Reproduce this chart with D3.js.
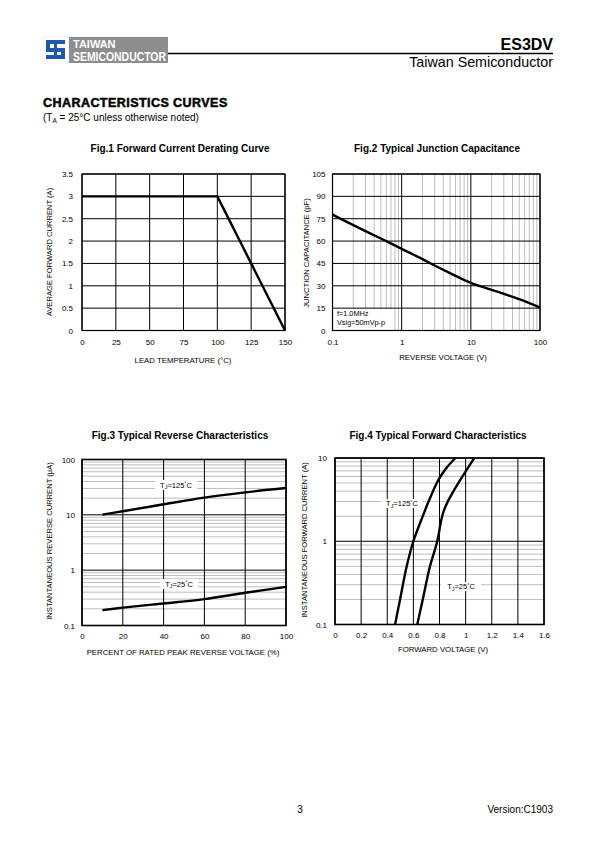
<!DOCTYPE html>
<html><head><meta charset="utf-8">
<script src="https://cdn.jsdelivr.net/npm/d3@7/dist/d3.min.js"></script>
<style>
html,body{margin:0;padding:0;background:#fff;}
svg{display:block;font-family:"Liberation Sans",Arial,sans-serif;}
</style></head>
<body>
<svg id="page" width="595" height="842"></svg>
<script>
// ---------- DATA ----------
// Fig.1 Forward Current Derating Curve
const fig1Temp = [0, 100, 150];
const fig1Current = [3, 3, 0];
const fig1XTicks = [0, 25, 50, 75, 100, 125, 150];
const fig1YTicks = [0, 0.5, 1, 1.5, 2, 2.5, 3, 3.5];

// Fig.2 Typical Junction Capacitance
const fig2Voltage = [0.1, 0.2, 0.5, 1, 2, 3, 5, 10, 20, 50, 100];
const fig2Cap = [77.7, 70.7, 61.7, 54.8, 47.9, 43.6, 38.5, 32, 27.3, 21, 15.4];
const fig2XTicks = [0.1, 1, 10, 100];
const fig2YTicks = [0, 15, 30, 45, 60, 75, 90, 105];

// Fig.3 Typical Reverse Characteristics
const fig3Pct = [10, 20, 40, 60, 80, 100];
const fig3Ir125 = [10.1, 11.6, 15.5, 20.5, 25.5, 30.5];
const fig3Ir25 = [0.19, 0.21, 0.25, 0.3, 0.39, 0.5];
const fig3XTicks = [0, 20, 40, 60, 80, 100];
const fig3YTicks = [0.1, 1, 10, 100];

// Fig.4 Typical Forward Characteristics
const fig4Vf125 = [0.46, 0.498, 0.549, 0.6, 0.672, 0.72, 0.79, 0.85, 0.922];
const fig4If125 = [0.1, 0.2, 0.5, 1, 2, 3.1, 5.4, 7.5, 10];
const fig4Vf25 = [0.63, 0.672, 0.727, 0.783, 0.813, 0.834, 0.868, 0.911, 0.957, 1.003, 1.066];
const fig4If25 = [0.1, 0.2, 0.5, 1, 1.79, 2.35, 3.1, 4.1, 5.4, 7, 10];
const fig4XTicks = [0, 0.2, 0.4, 0.6, 0.8, 1, 1.2, 1.4, 1.6];
const fig4YTicks = [0.1, 1, 10];

// ---------- PAGE ----------
const svg = d3.select("#page");
svg.append("rect").attr("width",595).attr("height",842).attr("fill","#fff");

// Header logo
const logo = svg.append("g");
logo.append("rect").attr("x",43).attr("y",37).attr("width",26).attr("height",26).attr("fill","#fff").attr("stroke","#ddd").attr("stroke-width",0.5);
const blue = "#1d5aa6";
[[46,40,19,4],[46,40,4,11],[46,48,19,4],[61,48,4,11],[46,55,19,4]].forEach(r=>{
  logo.append("rect").attr("x",r[0]).attr("y",r[1]).attr("width",r[2]).attr("height",r[3]).attr("fill",blue);
});
logo.append("rect").attr("x",54).attr("y",43).attr("width",3).attr("height",15).attr("fill",blue);
logo.append("rect").attr("x",69).attr("y",37).attr("width",99).attr("height",26).attr("fill","#8e8e8e");
logo.append("text").attr("x",73).attr("y",48).attr("fill","#fff").attr("font-weight","bold").attr("font-size",11).text("TAIWAN");
logo.append("text").attr("x",73).attr("y",60.5).attr("fill","#fff").attr("font-weight","bold").attr("font-size",12)
  .attr("textLength",93).attr("lengthAdjust","spacingAndGlyphs").text("SEMICONDUCTOR");
svg.append("line").attr("x1",168).attr("x2",553).attr("y1",53.5).attr("y2",53.5).attr("stroke","#000").attr("stroke-width",1.3);
svg.append("text").attr("x",553).attr("y",50).attr("text-anchor","end").attr("font-weight","bold").attr("font-size",16).text("ES3DV");
svg.append("text").attr("x",553).attr("y",66.5).attr("text-anchor","end").attr("font-size",14.3).text("Taiwan Semiconductor");

svg.append("text").attr("x",43).attr("y",107).attr("font-weight","bold").attr("font-size",12.5)
  .attr("stroke","#000").attr("stroke-width",0.5).attr("letter-spacing",0.45).text("CHARACTERISTICS CURVES");
const sub = svg.append("text").attr("x",43).attr("y",121).attr("font-size",10);
sub.append("tspan").text("(T");
sub.append("tspan").attr("font-size",6.5).attr("dy",2).text("A");
sub.append("tspan").attr("dy",-2).text(" = 25°C unless otherwise noted)");

// Footer
svg.append("text").attr("x",300).attr("y",813).attr("text-anchor","middle").attr("font-size",10).text("3");
svg.append("text").attr("x",553).attr("y",813).attr("text-anchor","end").attr("font-size",10).text("Version:C1903");

let clipId = 0;
function panel(opt){
  const g = svg.append("g");
  const {x0,x1,y0,y1} = opt;
  const xs = opt.xLog ? d3.scaleLog().domain(opt.xDomain).range([x0,x1]) : d3.scaleLinear().domain(opt.xDomain).range([x0,x1]);
  const ys = opt.yLog ? d3.scaleLog().domain(opt.yDomain).range([y1,y0]) : d3.scaleLinear().domain(opt.yDomain).range([y1,y0]);
  // minor grid
  const minorX = [], minorY = [];
  if (opt.xLog){ const d=opt.xDomain; for(let p=d[0]; p<d[1]-1e-9; p*=10){ for(let k=2;k<=9;k++) minorX.push(p*k);} }
  if (opt.yLog){ const d=opt.yDomain; for(let p=d[0]; p<d[1]-1e-9; p*=10){ for(let k=2;k<=9;k++) minorY.push(p*k);} }
  g.selectAll(".mx").data(minorX).enter().append("line")
    .attr("x1",d=>xs(d)).attr("x2",d=>xs(d)).attr("y1",y0).attr("y2",y1).attr("stroke","#a0a0a0").attr("stroke-width",0.7);
  g.selectAll(".my").data(minorY).enter().append("line")
    .attr("y1",d=>ys(d)).attr("y2",d=>ys(d)).attr("x1",x0).attr("x2",x1).attr("stroke","#a0a0a0").attr("stroke-width",0.7);
  // major grid
  g.selectAll(".gx").data(opt.xTicks).enter().append("line")
    .attr("x1",d=>xs(d)).attr("x2",d=>xs(d)).attr("y1",y0).attr("y2",y1).attr("stroke","#000").attr("stroke-width",1);
  g.selectAll(".gy").data(opt.yTicks).enter().append("line")
    .attr("y1",d=>ys(d)).attr("y2",d=>ys(d)).attr("x1",x0).attr("x2",x1).attr("stroke","#000").attr("stroke-width",1);
  // label boxes (white behind text, over grid)
  (opt.boxes||[]).forEach(b=>{
    g.append("rect").attr("x",b[0]).attr("y",b[1]).attr("width",b[2]).attr("height",b[3]).attr("fill","#fff");
  });
  // frame
  g.append("rect").attr("x",x0).attr("y",y0).attr("width",x1-x0).attr("height",y1-y0)
    .attr("fill","none").attr("stroke","#000").attr("stroke-width",opt.frameW||1.2);
  // axes tick labels via d3 axes
  const xAxis = g.append("g").attr("transform",`translate(0,${y1})`)
    .call(d3.axisBottom(xs).tickValues(opt.xTicks).tickSize(0).tickPadding(opt.xPad||8).tickFormat(opt.xFmt||(d=>String(d))));
  const yAxis = g.append("g").attr("transform",`translate(${x0},0)`)
    .call(d3.axisLeft(ys).tickValues(opt.yTicks).tickSize(0).tickPadding(opt.yPad||8).tickFormat(opt.yFmt||(d=>String(d))));
  [xAxis,yAxis].forEach(a=>{ a.select(".domain").remove(); a.selectAll("text").attr("font-size",8).attr("fill","#000").attr("font-family","Liberation Sans, Arial, sans-serif"); });
  // titles
  g.append("text").attr("x",opt.titleX).attr("y",opt.titleY).attr("text-anchor","middle").attr("font-weight","bold").attr("font-size",10).text(opt.title);
  g.append("text").attr("x",opt.xLabelX).attr("y",opt.xLabelY).attr("text-anchor","middle").attr("font-size",7.8).text(opt.xLabel);
  g.append("text").attr("transform",`translate(${opt.yLabelX},${opt.yLabelY}) rotate(-90)`).attr("text-anchor","middle").attr("font-size",7.6).text(opt.yLabel);
  // clip
  const cid = "clip"+(clipId++);
  g.append("clipPath").attr("id",cid).append("rect").attr("x",x0).attr("y",y0-1).attr("width",x1-x0+1).attr("height",y1-y0+2);
  const curves = g.append("g").attr("clip-path",`url(#${cid})`);
  (opt.series||[]).forEach(s=>{
    const pts = s.x.map((v,i)=>[v,s.y[i]]);
    const line = d3.line().x(d=>xs(d[0])).y(d=>ys(d[1])).curve(s.curve||d3.curveLinear);
    curves.append("path").attr("d",line(pts)).attr("fill","none").attr("stroke","#000").attr("stroke-width",2.4).attr("stroke-linejoin","round");
  });
  return {g,xs,ys};
}

function tjLabel(g,x,y,temp){
  const t = g.append("text").attr("x",x).attr("y",y).attr("text-anchor","middle").attr("font-size",7.5);
  t.append("tspan").text("T");
  t.append("tspan").attr("font-size",5.5).attr("dy",1.5).text("J");
  t.append("tspan").attr("dy",-1.5).text("="+temp);
  t.append("tspan").attr("font-size",5.5).attr("dy",-2.5).text("°");
  t.append("tspan").attr("dy",2.5).text("C");
}

// Fig.1
panel({x0:82,x1:285,y0:174,y1:330.5,xDomain:[0,150],yDomain:[0,3.5],
  xTicks:fig1XTicks,yTicks:fig1YTicks,xPad:9,yPad:9,
  title:"Fig.1 Forward Current Derating Curve",titleX:180,titleY:152,
  xLabel:"LEAD TEMPERATURE (°C)",xLabelX:183,xLabelY:363,
  yLabel:"AVERAGE FORWARD CURRENT (A)",yLabelX:52,yLabelY:252,
  series:[{x:fig1Temp,y:fig1Current}]});

// Fig.2
const p2 = panel({x0:332.5,x1:540,y0:174,y1:330.5,xLog:true,xDomain:[0.1,100],yDomain:[0,105],
  xTicks:fig2XTicks,yTicks:fig2YTicks,xPad:9,yPad:7,
  xFmt:d=>({0.1:"0.1",1:"1",10:"10",100:"100"})[d],
  boxes:[[333.5,309,59,21]],
  title:"Fig.2 Typical Junction Capacitance",titleX:437,titleY:152,
  xLabel:"REVERSE VOLTAGE (V)",xLabelX:443,xLabelY:360,
  yLabel:"JUNCTION CAPACITANCE (pF)",yLabelX:309,yLabelY:253,
  series:[{x:fig2Voltage,y:fig2Cap,curve:d3.curveCatmullRom}]});
p2.g.append("text").attr("x",337).attr("y",315.5).attr("font-size",7.3).text("f=1.0MHz");
p2.g.append("text").attr("x",337).attr("y",325).attr("font-size",7.3).text("Vsig=50mVp-p");

// Fig.3
const p3 = panel({x0:82,x1:286,y0:459.5,y1:625.5,yLog:true,xDomain:[0,100],yDomain:[0.1,100],
  xTicks:fig3XTicks,yTicks:fig3YTicks,xPad:8,yPad:7,frameW:1.6,
  yFmt:d=>({0.1:"0.1",1:"1",10:"10",100:"100"})[d],
  boxes:[[155,480,42,10],[160,579,38,10]],
  title:"Fig.3 Typical Reverse Characteristics",titleX:180,titleY:439,
  xLabel:"PERCENT OF RATED PEAK REVERSE VOLTAGE (%)",xLabelX:183,xLabelY:655,
  yLabel:"INSTANTANEOUS REVERSE CURRENT (μA)",yLabelX:52,yLabelY:541,
  series:[{x:fig3Pct,y:fig3Ir125,curve:d3.curveCatmullRom},{x:fig3Pct,y:fig3Ir25,curve:d3.curveCatmullRom}]});
tjLabel(p3.g,176,487.5,"125");
tjLabel(p3.g,179,586.5,"25");

// Fig.4
const p4 = panel({x0:335,x1:544,y0:458,y1:624.5,yLog:true,xDomain:[0,1.6],yDomain:[0.1,10],
  xTicks:fig4XTicks,yTicks:fig4YTicks,xPad:8,yPad:8,frameW:1.6,
  xFmt:d=>String(d),yFmt:d=>({0.1:"0.1",1:"1",10:"10"})[d],
  boxes:[[381,499,42,9],[441,582,40,9]],
  title:"Fig.4 Typical Forward Characteristics",titleX:438,titleY:439,
  xLabel:"FORWARD VOLTAGE (V)",xLabelX:443,xLabelY:652,
  yLabel:"INSTANTANEOUS FORWARD CURRENT (A)",yLabelX:307,yLabelY:540,
  series:[{x:fig4Vf125,y:fig4If125,curve:d3.curveCatmullRom},{x:fig4Vf25,y:fig4If25,curve:d3.curveCatmullRom}]});
tjLabel(p4.g,402,506,"125");
tjLabel(p4.g,461,589,"25");
</script>
</body></html>
